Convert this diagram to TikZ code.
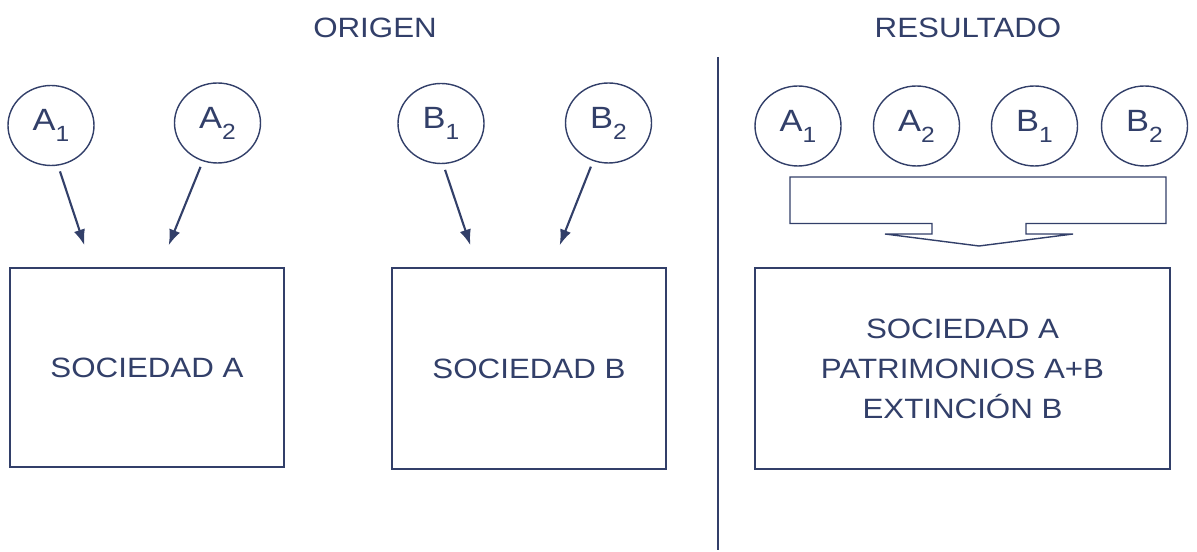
\documentclass[tikz,border=0pt]{standalone}
\usepackage{fontspec}
\setmainfont{Liberation Sans}[FakeStretch=1.12]
\usepackage{tikz}
\usetikzlibrary{shapes.geometric,arrows.meta}
\definecolor{slate}{RGB}{50,63,105}
\newcommand{\idx}[1]{\raisebox{-6.2pt}{\fontsize{12.5}{12.5}\selectfont #1}}

\begin{document}
\begin{tikzpicture}[shorten >=1pt, >={Latex[length=9pt,width=6.5pt]}]
				\tikzstyle{socio}=[draw=slate,line width=0.8pt,shape=ellipse,minimum width=1.72cm,minimum height=1.6cm,inner sep=0pt,text=slate,font=\fontsize{17.5}{17.5}\selectfont]
				\tikzstyle{sociedad}=[draw=slate,line width=0.8pt,shape=rectangle,inner sep=0pt,text=slate,align=center,font=\fontsize{15.9}{22.8}\selectfont]
				\tikzstyle{titulo}=[text=slate,font=\fontsize{15.9}{15.9}\selectfont]
				\tikzstyle{flecha}=[->,draw=slate,line width=1.2pt,shorten <=0.12cm]
				
				\useasboundingbox (0,0) rectangle (23.94,-11.04);
				
				\node[titulo](origen) at (7.5,-0.56){ORIGEN};
				\node[titulo](resultado) at (19.36,-0.56){RESULTADO};
				
				\coordinate (sep1) at (14.36,-1.14);
				\coordinate (sep2) at (14.36,-11.04);
				\draw[slate,line width=0.8pt] (sep1) -- (sep2);
				
				\node[socio](a1) at (1.02,-2.51){A\idx{1}};
				\node[socio](a2) at (4.35,-2.46){A\idx{2}};
				\node[socio](b1) at (8.82,-2.47){B\idx{1}};
				\node[socio](b2) at (12.17,-2.46){B\idx{2}};
				
				\node[sociedad,minimum width=5.48cm,minimum height=3.98cm](sa) at (2.94,-7.35){SOCIEDAD A};
				\node[sociedad,minimum width=5.48cm,minimum height=4.02cm](sb) at (10.58,-7.37){SOCIEDAD B};
				
				\coordinate (a1e) at (1.7,-4.94);
				\coordinate (a2e) at (3.36,-4.94);
				\coordinate (b1e) at (9.42,-4.94);
				\coordinate (b2e) at (11.18,-4.94);
				
				\draw[flecha] (a1.-80) -- (a1e);
				\draw[flecha] (a2.-111) -- (a2e);
				\draw[flecha] (b1.-87) -- (b1e);
				\draw[flecha] (b2.-112) -- (b2e);
				
				\node[socio](ra1) at (15.96,-2.52){A\idx{1}};
				\node[socio](ra2) at (18.33,-2.52){A\idx{2}};
				\node[socio](rb1) at (20.69,-2.52){B\idx{1}};
				\node[socio](rb2) at (22.89,-2.52){B\idx{2}};
				
				\draw[slate,line width=0.8pt] (15.8,-3.54) -- (23.32,-3.54) -- (23.32,-4.47) -- (20.52,-4.47) -- (20.52,-4.68) -- (21.46,-4.68) -- (19.58,-4.92) -- (17.7,-4.68) -- (18.64,-4.68) -- (18.64,-4.47) -- (15.8,-4.47) -- cycle;
				
				\node[sociedad,minimum width=8.3cm,minimum height=4.02cm](sr) at (19.25,-7.37){SOCIEDAD A\\PATRIMONIOS A+B\\EXTINCIÓN B};
\end{tikzpicture}
\end{document}
